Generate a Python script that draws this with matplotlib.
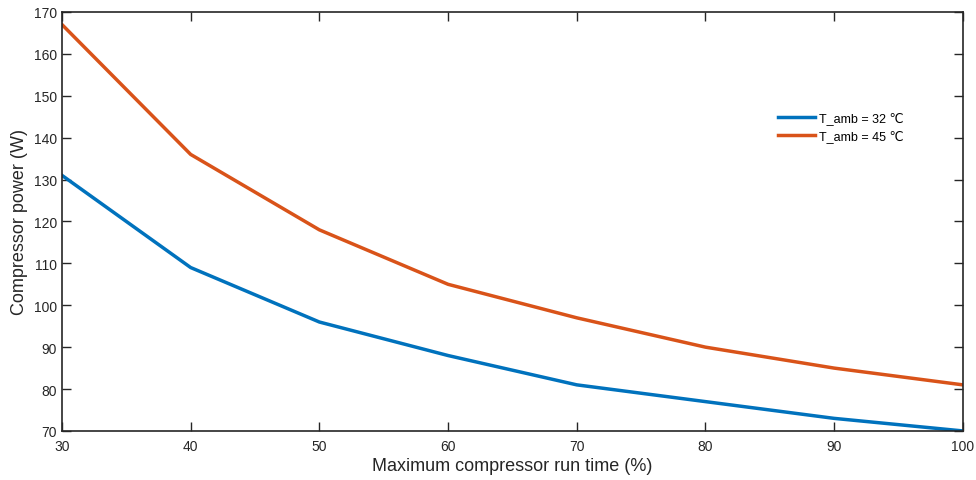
import matplotlib.pyplot as plt

plt.rcParams['font.family'] = ['Liberation Sans', 'DejaVu Sans']

# run time (%) and compressor power (W)
run_time = [30, 40, 50, 60, 70, 80, 90, 100]
power_32 = [131, 109, 96, 88, 81, 77, 73, 70]
power_45 = [167, 136, 118, 105, 97, 90, 85, 81]
labels = ['T_amb = 32 ℃', 'T_amb = 45 ℃']

fig = plt.figure(figsize=(9.76, 4.81), dpi=100)
ax = fig.add_axes([0.0635, 0.102, 0.923, 0.871])

ax.plot(run_time, power_32, color='#0072BD', lw=2.5, label=labels[0])
ax.plot(run_time, power_45, color='#D95319', lw=2.5, label=labels[1])

ax.set_xlim(30, 100)
ax.set_ylim(70, 170)
ax.set_xticks(range(30, 101, 10))
ax.set_yticks(range(70, 171, 10))
ax.tick_params(direction='in', top=True, right=True, labelsize=10, length=6.5,
               width=1, colors='#262626')
ax.tick_params(axis='x', pad=6)
for s in ax.spines.values():
    s.set_linewidth(1.2)
    s.set_color('#262626')

ax.set_xlabel('Maximum compressor run time (%)', fontsize=13, color='#262626', labelpad=3)
ax.set_ylabel('Compressor power (W)', fontsize=13, color='#262626', labelpad=4)

ax.legend(frameon=False, fontsize=9, loc='upper left', bbox_to_anchor=(0.782, 0.79),
          handlelength=3.0, handletextpad=0.3, labelspacing=0.4)

plt.savefig('out.png', dpi=100)
